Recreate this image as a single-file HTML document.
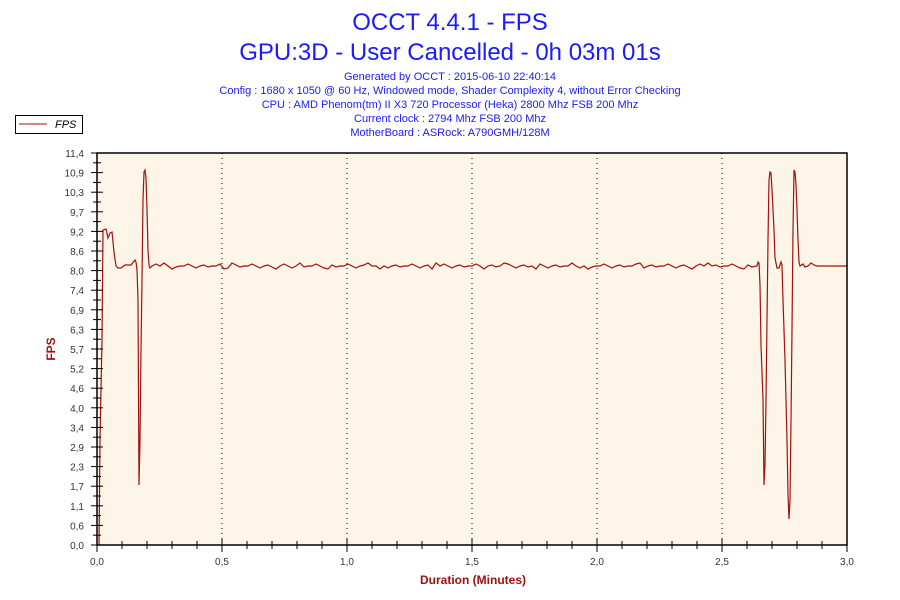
<!DOCTYPE html>
<html><head><meta charset="utf-8"><style>
body{margin:0;background:#fff;width:900px;height:600px;overflow:hidden}
svg{display:block;font-family:"Liberation Sans",sans-serif}
</style></head><body>
<svg id="s" width="900" height="600" xmlns="http://www.w3.org/2000/svg">
<text x="450" y="30" text-anchor="middle" font-size="24" fill="#1a1aff">OCCT 4.4.1 - FPS</text>
<text x="450" y="60" text-anchor="middle" font-size="24" fill="#1a1aff">GPU:3D - User Cancelled - 0h 03m 01s</text>
<g font-size="11" fill="#1a1aff" text-anchor="middle">
<text x="450" y="80">Generated by OCCT : 2015-06-10 22:40:14</text>
<text x="450" y="94">Config : 1680 x 1050 @ 60 Hz, Windowed mode, Shader Complexity 4, without Error Checking</text>
<text x="450" y="108">CPU : AMD Phenom(tm) II X3 720 Processor (Heka) 2800 Mhz FSB 200 Mhz</text>
<text x="450" y="122">Current clock : 2794 Mhz FSB 200 Mhz</text>
<text x="450" y="136">MotherBoard : ASRock: A790GMH/128M</text>
</g>
<rect x="15.5" y="115.5" width="67" height="18" fill="#fff" stroke="#000"/>
<line x1="19" y1="124" x2="47" y2="124" stroke="#a01010"/>
<text x="55" y="128" font-size="11" font-style="italic" fill="#000">FPS</text>
<rect x="97" y="153" width="750" height="392" fill="#fdf6e8"/>
<g id="grid" stroke="#000" stroke-dasharray="1,4"></g>
<path id="p" fill="none" stroke="#a01010" stroke-width="1.2"/>
<rect x="97" y="153" width="750" height="392" fill="none" stroke="#000" stroke-width="1.5"/>
<g id="ax" stroke="#000"></g>
<g id="lab" font-size="10" fill="#333"></g>
<text x="473" y="584" text-anchor="middle" font-size="12" font-weight="bold" fill="#a01010">Duration (Minutes)</text>
<text x="55" y="349" text-anchor="middle" font-size="12" font-weight="bold" fill="#a01010" transform="rotate(-90 55 349)">FPS</text>
</svg>
<script>
var NS="http://www.w3.org/2000/svg";
function el(p,t,a){var e=document.createElementNS(NS,t);for(var k in a)e.setAttribute(k,a[k]);document.getElementById(p).appendChild(e);return e;}
for(var i=1;i<=6;i++){var x=97+i*125;el("grid","line",{x1:x,y1:153,x2:x,y2:545});}
for(var i=0;i<=30;i++){var x=97+i*25;var maj=i%5==0;el("ax","line",{x1:x,y1:maj?538:541,x2:x,y2:maj?552:549});
 if(maj){var t=el("lab","text",{x:x,y:565,"text-anchor":"middle"});t.textContent=(i/10).toFixed(1).replace(".",",");}}
var yl=["0,0","0,6","1,1","1,7","2,3","2,9","3,4","4,0","4,6","5,2","5,7","6,3","6,9","7,4","8,0","8,6","9,2","9,7","10,3","10,9","11,4"];
for(var i=0;i<=40;i++){var y=545-i*9.8;var maj=i%2==0;el("ax","line",{x1:maj?91:93,y1:y,x2:maj?103:101,y2:y});
 if(maj){var t=el("lab","text",{x:84,y:y+4,"text-anchor":"end"});t.textContent=yl[i/2];}}
var pts=[[99,545],[100,440],[102,340],[103,230],[106,229],[108,238],[110,233],[112,232],[114,252],[116,266],[118,268],[121,268],[125,265],[131,265],[135,260],[136,262],[137,270],[138,300],[139,485],[140,440],[141,350],[142,280],[143,200],[144,172],[145,170],[146,178],[147,210],[148,250],[149,265],[150,268]];
var x=152,k=0;
while(x<753){var v=[266,264,266,268,266,265,267,266][k%8];if(k%13==5)v=269;if(k%17==3)v=263;pts.push([x,v]);x+=4;k++;}
pts=pts.concat([[757,266],[758,262],[759,263],[760,285],[761,345],[763,400],[764,485],[765,465],[766,400],[767,320],[768,240],[769,180],[770,172],[771,173],[772,190],[774,230],[775,258],[777,268],[779,268],[781,262],[782,265],[783,300],[785,360],[787,440],[788,495],[789,519],[790,500],[791,420],[792,330],[793,230],[794,170],[795,172],[796,185],[797,210],[798,240],[799,262],[800,266],[803,264],[805,267],[808,266],[811,263],[814,265],[817,266],[847,266]]);
document.getElementById("p").setAttribute("d","M"+pts.map(function(p){return p.join(",")}).join(" L"));
</script>
</body></html>
